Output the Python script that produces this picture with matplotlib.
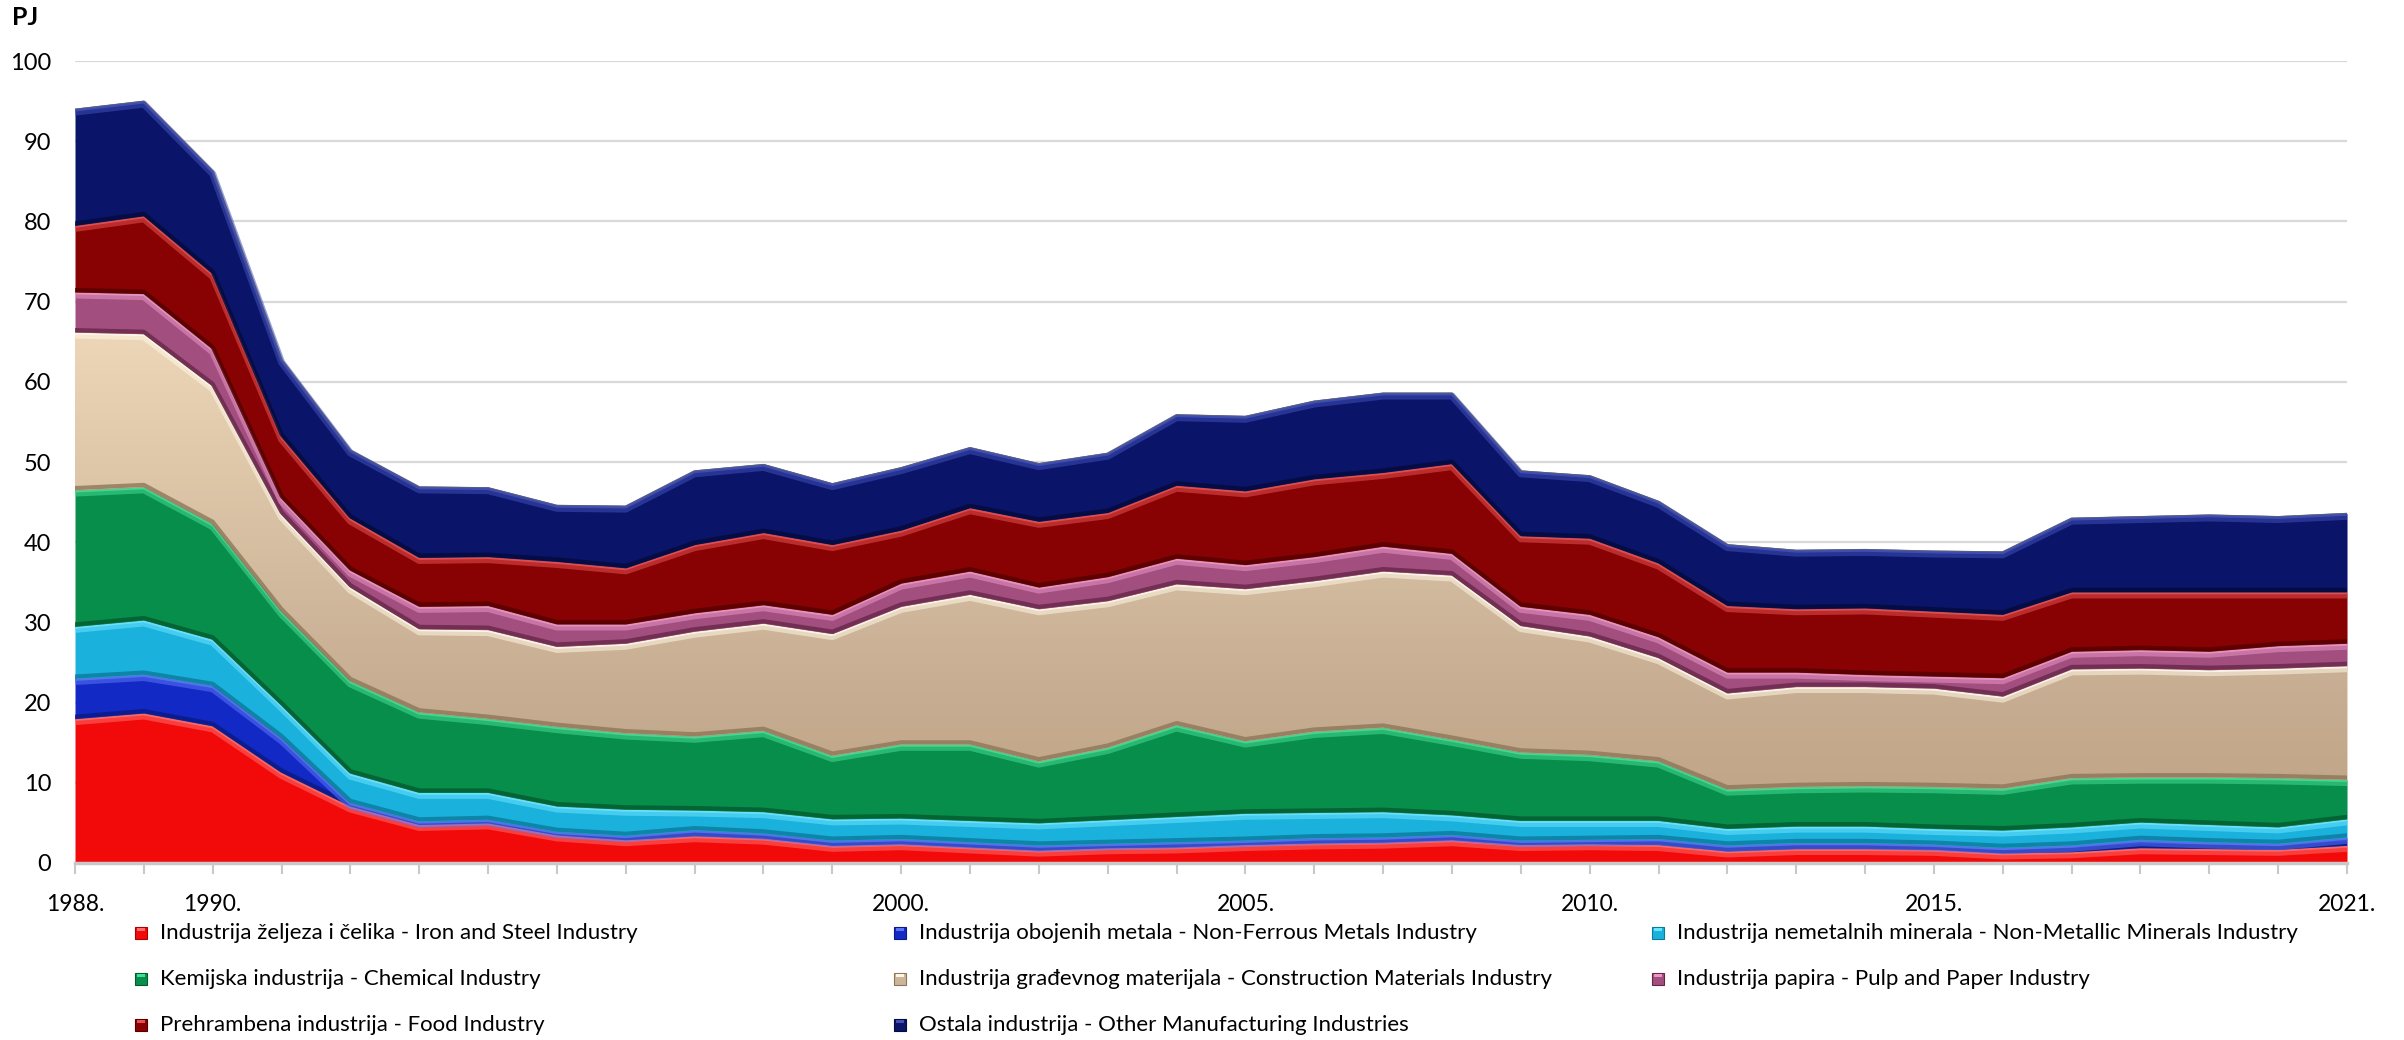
"""Potrošnja energije u industriji po granama, 1988.-2021. (PJ)"""

import numpy as np
import matplotlib
matplotlib.use("Agg")
import matplotlib.pyplot as plt
from matplotlib import transforms
from matplotlib.patches import Rectangle
from matplotlib.colors import LinearSegmentedColormap

# ── podaci (PJ) ─────────────────────────────────────────
years = list(range(1988, 2022))

iron = [18.0, 18.7, 17.1, 11.3, 7.1, 4.8, 5.0, 3.5, 2.9, 3.4, 3.1, 2.2, 2.4, 2.0, 1.6, 1.9, 2.0,
        2.3, 2.5, 2.6, 2.9, 2.3, 2.4, 2.3, 1.5, 1.8, 1.8, 1.7, 1.25, 1.4, 1.9, 1.8, 1.7, 2.2]
nonferrous = [5.0, 4.8, 5.0, 4.3, 0.4, 0.4, 0.4, 0.4, 0.5, 0.7, 0.6, 0.6, 0.6, 0.6, 0.6, 0.5, 0.6,
              0.5, 0.6, 0.6, 0.6, 0.5, 0.5, 0.7, 0.7, 0.7, 0.7, 0.6, 0.65, 0.8, 1.0, 0.8, 0.7, 1.0]
nonmetallic = [6.5, 6.8, 5.8, 4.1, 3.7, 3.6, 3.4, 3.2, 3.3, 2.5, 2.7, 2.7, 2.6, 2.7, 2.8, 3.0, 3.2,
               3.4, 3.2, 3.2, 2.5, 2.5, 2.4, 2.3, 2.1, 2.1, 2.1, 2.0, 2.2, 2.3, 2.2, 2.2, 2.1, 2.3]
chemical = [17.0, 16.6, 14.4, 11.7, 11.5, 10.0, 9.2, 9.9, 9.5, 9.2, 10.1, 7.9, 9.2, 9.5, 7.7, 9.0, 11.4,
            9.0, 10.1, 10.5, 9.4, 8.5, 8.2, 7.4, 4.9, 4.9, 5.0, 5.2, 5.2, 6.1, 5.6, 5.9, 6.1, 4.9]
construction = [19.7, 19.1, 17.2, 12.1, 11.7, 10.4, 11.1, 10.0, 11.2, 13.1, 13.4, 15.2, 17.2, 18.7, 19.0,
                18.3, 17.6, 19.0, 18.8, 19.5, 20.5, 15.8, 14.8, 12.9, 12.0, 12.5, 12.4, 12.3, 11.5,
                13.6, 13.6, 13.4, 13.7, 14.2]
paper = [5.0, 5.0, 4.6, 2.0, 2.1, 2.8, 3.0, 2.8, 2.4, 2.3, 2.3, 2.4, 2.9, 2.9, 2.7, 3.0, 3.2,
         3.0, 3.0, 3.1, 2.7, 2.4, 2.7, 2.6, 2.6, 1.8, 1.5, 1.5, 2.3, 2.2, 2.3, 2.3, 2.8, 2.8]
food = [8.3, 9.7, 9.4, 7.7, 6.5, 6.1, 6.1, 7.8, 7.0, 8.5, 9.0, 8.7, 6.6, 7.9, 8.2, 8.0, 9.1,
        9.2, 9.7, 9.2, 11.2, 8.8, 9.5, 9.2, 8.3, 7.9, 8.3, 8.1, 7.9, 7.4, 7.2, 7.4, 6.7, 6.4]
other = [14.5, 14.3, 12.8, 9.6, 8.5, 8.8, 8.6, 7.0, 7.7, 9.2, 8.5, 7.6, 7.8, 7.5, 7.2, 7.4, 8.8,
         9.3, 9.7, 9.9, 8.8, 8.1, 7.8, 7.7, 7.6, 7.3, 7.3, 7.5, 7.8, 9.2, 9.4, 9.6, 9.4, 9.8]

labels = [
    "Industrija željeza i čelika - Iron and Steel Industry",
    "Industrija obojenih metala - Non-Ferrous Metals Industry",
    "Industrija nemetalnih minerala - Non-Metallic Minerals Industry",
    "Kemijska industrija - Chemical Industry",
    "Industrija građevnog materijala - Construction Materials Industry",
    "Industrija papira - Pulp and Paper Industry",
    "Prehrambena industrija - Food Industry",
    "Ostala industrija - Other Manufacturing Industries",
]
shown_years = [1988, 1990, 2000, 2005, 2010, 2015, 2021]

# boja: (osnovna, svijetli rub, tamni rub)
palette = [
    ("#F20A0A", "#FF6A6A", "#A80000"),
    ("#1229C6", "#5A74F5", "#0A1A80"),
    ("#1AB2DC", "#6BE2FF", "#0C7A9C"),
    ("#078E4B", "#46DC92", "#045A2E"),
    ("#CDB599", "#FFF7E6", "#8E7658"),
    ("#A24F80", "#E896C4", "#662648"),
    ("#880204", "#E65050", "#520000"),
    ("#0A1468", "#4050B8", "#040A3C"),
]

plt.rcParams["font.family"] = ["Lato", "DejaVu Sans"]

fig = plt.figure(figsize=(24.04, 10.4), dpi=100)
ax = fig.add_axes([0.0312, 0.1702, 0.9451, 0.7711])

x = np.array(years, dtype=float)
series = np.array([iron, nonferrous, nonmetallic, chemical, construction, paper, food, other])
tops = np.cumsum(series, axis=0)
bottoms = np.vstack([np.zeros(len(years)), tops[:-1]])

below = transforms.offset_copy(ax.transData, fig=fig, x=0, y=-3, units="dots")
below2 = transforms.offset_copy(ax.transData, fig=fig, x=0, y=-1, units="dots")
above = transforms.offset_copy(ax.transData, fig=fig, x=0, y=2, units="dots")

tan_cmap = LinearSegmentedColormap.from_list(
    "tan", [(0, "#BDA184"), (0.2, "#C6AC90"), (0.35, "#D2BA9E"), (0.7, "#F1D9BB"), (1, "#F6E0C4")])

for i in range(len(series)):
    base, light, dark = palette[i]
    lo, hi = bottoms[i], tops[i]
    poly = ax.fill_between(x, lo, hi, color=base, lw=0, zorder=2 + i)
    if i == 4:
        # svjetlije prema vrhu
        grad = np.linspace(0, 1, 256).reshape(-1, 1)
        im = ax.imshow(grad, extent=[x[0], x[-1], 0, 100], origin="lower", aspect="auto",
                       cmap=tan_cmap, zorder=2 + i)
        im.set_clip_path(poly.get_paths()[0], ax.transData)
    # sjena pri dnu pojasa
    if i > 0:
        ax.plot(x, lo, color=dark, lw=3, alpha=0.8, transform=above, zorder=2 + i)
    # svijetli rub pri vrhu (efekt reljefa)
    ax.plot(x, hi, color=light, lw=5, alpha=0.55, transform=below, zorder=2 + i,
            solid_joinstyle="round")
    ax.plot(x, hi, color=light, lw=2, alpha=0.9, transform=below2, zorder=2 + i,
            solid_joinstyle="round")
    ax.plot(x, hi, color="#5E5E5E", lw=0.8, alpha=0.7, zorder=2 + i)

# osi
ax.set_xlim(years[0], years[-1])
ax.set_ylim(0, 100)
ax.set_yticks(range(0, 101, 10))
ax.yaxis.grid(True, color="#D9D9D9", lw=1.6)
ax.set_axisbelow(True)
ax.set_xticks(years)
ax.set_xticklabels([f"{y}." if y in shown_years else "" for y in years])
ax.tick_params(axis="x", length=8, width=1.5, color="#C8C8C8", labelsize=16.5, pad=14)
ax.tick_params(axis="y", length=0, labelsize=17, pad=17)
for s in ["top", "right", "left"]:
    ax.spines[s].set_visible(False)
ax.spines["bottom"].set_color("#C8C8C8")
ax.spines["bottom"].set_linewidth(2.5)
ax.spines["bottom"].set_zorder(20)

fig.text(12 / 2404, 1 - 6 / 1040, "PJ", fontsize=18, fontweight="bold", va="top", ha="left")

# legenda u tri stupca, redom po retcima
W, H = 2404, 1040
col_x = [141, 900, 1658]
row_y = [933, 979, 1025]
for i, lab in enumerate(labels):
    base, light, dark = palette[i]
    cx, cy = col_x[i % 3], row_y[i // 3]
    sq = 12
    fig.patches.append(Rectangle(((cx - sq / 2) / W, 1 - (cy + sq / 2) / H), sq / W, sq / H,
                                 transform=fig.transFigure, facecolor=base, edgecolor=dark, lw=0.8))
    fig.patches.append(Rectangle(((cx - sq / 2 + 2) / W, 1 - (cy - sq / 2 + 4) / H), (sq - 4) / W, 3 / H,
                                 transform=fig.transFigure, facecolor=light, edgecolor="none"))
    fig.text((cx + 19) / W, 1 - cy / H, lab, fontsize=16, va="center", ha="left")

plt.savefig("out.png", dpi=100)
plt.close()
